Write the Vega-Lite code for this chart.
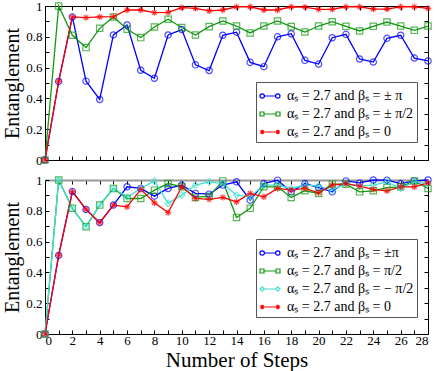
{
"$schema": "https://vega.github.io/schema/vega-lite/v6.json",
"padding": {"left": 2, "top": -1, "right": 6, "bottom": 0},
"spacing": 5,
"config": {"view": {"stroke": "black", "strokeWidth": 1}, "font": "Liberation Serif", "axis": {"grid": false, "domain": false, "tickColor": "black", "tickSize": -4, "tickWidth": 1, "labelFont": "Liberation Serif", "labelFontSize": 13, "labelColor": "black", "titleFont": "Liberation Serif", "titleFontSize": 20, "titleFontWeight": "normal", "titleColor": "black"}},
"datasets": {
"top": [
{"k":"A","x":0,"y":0},{"k":"A","x":1,"y":0.51},{"k":"A","x":2,"y":0.929},{"k":"A","x":3,"y":0.512},{"k":"A","x":4,"y":0.393},{"k":"A","x":5,"y":0.812},{"k":"A","x":6,"y":0.877},{"k":"A","x":7,"y":0.583},{"k":"A","x":8,"y":0.531},{"k":"A","x":9,"y":0.812},{"k":"A","x":10,"y":0.847},{"k":"A","x":11,"y":0.618},{"k":"A","x":12,"y":0.581},{"k":"A","x":13,"y":0.81},{"k":"A","x":14,"y":0.83},{"k":"A","x":15,"y":0.634},{"k":"A","x":16,"y":0.606},{"k":"A","x":17,"y":0.8},{"k":"A","x":18,"y":0.82},{"k":"A","x":19,"y":0.647},{"k":"A","x":20,"y":0.623},{"k":"A","x":21,"y":0.794},{"k":"A","x":22,"y":0.816},{"k":"A","x":23,"y":0.656},{"k":"A","x":24,"y":0.636},{"k":"A","x":25,"y":0.79},{"k":"A","x":26,"y":0.81},{"k":"A","x":27,"y":0.662},{"k":"A","x":28,"y":0.643},
{"k":"B","x":0,"y":0},{"k":"B","x":1,"y":1.0},{"k":"B","x":2,"y":0.81},{"k":"B","x":3,"y":0.73},{"k":"B","x":4,"y":0.855},{"k":"B","x":5,"y":0.929},{"k":"B","x":6,"y":0.849},{"k":"B","x":7,"y":0.795},{"k":"B","x":8,"y":0.864},{"k":"B","x":9,"y":0.914},{"k":"B","x":10,"y":0.86},{"k":"B","x":11,"y":0.812},{"k":"B","x":12,"y":0.866},{"k":"B","x":13,"y":0.903},{"k":"B","x":14,"y":0.87},{"k":"B","x":15,"y":0.825},{"k":"B","x":16,"y":0.87},{"k":"B","x":17,"y":0.903},{"k":"B","x":18,"y":0.866},{"k":"B","x":19,"y":0.831},{"k":"B","x":20,"y":0.87},{"k":"B","x":21,"y":0.898},{"k":"B","x":22,"y":0.868},{"k":"B","x":23,"y":0.838},{"k":"B","x":24,"y":0.868},{"k":"B","x":25,"y":0.896},{"k":"B","x":26,"y":0.87},{"k":"B","x":27,"y":0.842},{"k":"B","x":28,"y":0.87},
{"k":"D","x":0,"y":0},{"k":"D","x":1,"y":0.51},{"k":"D","x":2,"y":0.929},{"k":"D","x":3,"y":0.925},{"k":"D","x":4,"y":0.929},{"k":"D","x":5,"y":0.931},{"k":"D","x":6,"y":0.974},{"k":"D","x":7,"y":0.974},{"k":"D","x":8,"y":0.957},{"k":"D","x":9,"y":0.959},{"k":"D","x":10,"y":0.989},{"k":"D","x":11,"y":0.985},{"k":"D","x":12,"y":0.968},{"k":"D","x":13,"y":0.974},{"k":"D","x":14,"y":0.995},{"k":"D","x":15,"y":0.995},{"k":"D","x":16,"y":0.974},{"k":"D","x":17,"y":0.974},{"k":"D","x":18,"y":0.995},{"k":"D","x":19,"y":0.993},{"k":"D","x":20,"y":0.978},{"k":"D","x":21,"y":0.978},{"k":"D","x":22,"y":0.995},{"k":"D","x":23,"y":0.995},{"k":"D","x":24,"y":0.98},{"k":"D","x":25,"y":0.98},{"k":"D","x":26,"y":0.995},{"k":"D","x":27,"y":0.995},{"k":"D","x":28,"y":0.985}
],
"bottom": [
{"k":"A","x":0,"y":0},{"k":"A","x":1,"y":0.51},{"k":"A","x":2,"y":0.925},{"k":"A","x":3,"y":0.809},{"k":"A","x":4,"y":0.723},{"k":"A","x":5,"y":0.837},{"k":"A","x":6,"y":0.956},{"k":"A","x":7,"y":0.945},{"k":"A","x":8,"y":0.895},{"k":"A","x":9,"y":0.945},{"k":"A","x":10,"y":0.967},{"k":"A","x":11,"y":0.913},{"k":"A","x":12,"y":0.908},{"k":"A","x":13,"y":0.967},{"k":"A","x":14,"y":0.988},{"k":"A","x":15,"y":0.869},{"k":"A","x":16,"y":0.977},{"k":"A","x":17,"y":0.999},{"k":"A","x":18,"y":0.923},{"k":"A","x":19,"y":0.977},{"k":"A","x":20,"y":0.951},{"k":"A","x":21,"y":0.923},{"k":"A","x":22,"y":0.994},{"k":"A","x":23,"y":0.981},{"k":"A","x":24,"y":1.0},{"k":"A","x":25,"y":0.999},{"k":"A","x":26,"y":0.977},{"k":"A","x":27,"y":0.994},{"k":"A","x":28,"y":1.0},
{"k":"B","x":0,"y":0},{"k":"B","x":1,"y":1.0},{"k":"B","x":2,"y":0.816},{"k":"B","x":3,"y":0.697},{"k":"B","x":4,"y":0.837},{"k":"B","x":5,"y":0.945},{"k":"B","x":6,"y":0.88},{"k":"B","x":7,"y":0.88},{"k":"B","x":8,"y":0.934},{"k":"B","x":9,"y":0.977},{"k":"B","x":10,"y":0.956},{"k":"B","x":11,"y":0.887},{"k":"B","x":12,"y":0.895},{"k":"B","x":13,"y":0.994},{"k":"B","x":14,"y":0.757},{"k":"B","x":15,"y":0.816},{"k":"B","x":16,"y":0.956},{"k":"B","x":17,"y":0.956},{"k":"B","x":18,"y":0.887},{"k":"B","x":19,"y":0.93},{"k":"B","x":20,"y":0.913},{"k":"B","x":21,"y":0.973},{"k":"B","x":22,"y":0.973},{"k":"B","x":23,"y":0.923},{"k":"B","x":24,"y":0.93},{"k":"B","x":25,"y":0.951},{"k":"B","x":26,"y":0.956},{"k":"B","x":27,"y":0.994},{"k":"B","x":28,"y":0.945},
{"k":"C","x":0,"y":0},{"k":"C","x":1,"y":1.0},{"k":"C","x":2,"y":0.816},{"k":"C","x":3,"y":0.697},{"k":"C","x":4,"y":0.837},{"k":"C","x":5,"y":0.945},{"k":"C","x":6,"y":0.89},{"k":"C","x":7,"y":0.945},{"k":"C","x":8,"y":0.994},{"k":"C","x":9,"y":0.848},{"k":"C","x":10,"y":0.902},{"k":"C","x":11,"y":0.967},{"k":"C","x":12,"y":0.988},{"k":"C","x":13,"y":0.977},{"k":"C","x":14,"y":0.902},{"k":"C","x":15,"y":0.891},{"k":"C","x":16,"y":0.967},{"k":"C","x":17,"y":0.967},{"k":"C","x":18,"y":0.945},{"k":"C","x":19,"y":0.967},{"k":"C","x":20,"y":0.96},{"k":"C","x":21,"y":0.934},{"k":"C","x":22,"y":0.977},{"k":"C","x":23,"y":0.96},{"k":"C","x":24,"y":0.967},{"k":"C","x":25,"y":0.988},{"k":"C","x":26,"y":0.945},{"k":"C","x":27,"y":0.988},{"k":"C","x":28,"y":0.977},
{"k":"D","x":0,"y":0},{"k":"D","x":1,"y":0.51},{"k":"D","x":2,"y":0.925},{"k":"D","x":3,"y":0.809},{"k":"D","x":4,"y":0.723},{"k":"D","x":5,"y":0.837},{"k":"D","x":6,"y":0.826},{"k":"D","x":7,"y":0.939},{"k":"D","x":8,"y":0.852},{"k":"D","x":9,"y":0.788},{"k":"D","x":10,"y":0.956},{"k":"D","x":11,"y":0.88},{"k":"D","x":12,"y":0.874},{"k":"D","x":13,"y":0.887},{"k":"D","x":14,"y":0.858},{"k":"D","x":15,"y":0.913},{"k":"D","x":16,"y":0.891},{"k":"D","x":17,"y":0.945},{"k":"D","x":18,"y":0.934},{"k":"D","x":19,"y":0.945},{"k":"D","x":20,"y":0.917},{"k":"D","x":21,"y":0.967},{"k":"D","x":22,"y":0.977},{"k":"D","x":23,"y":0.96},{"k":"D","x":24,"y":0.939},{"k":"D","x":25,"y":0.93},{"k":"D","x":26,"y":0.956},{"k":"D","x":27,"y":0.956},{"k":"D","x":28,"y":0.981}
]
},
"vconcat": [
{
"width": 383, "height": 154,
"data": {"name": "top"},
"layer": [
{"mark": {"type": "line", "strokeWidth": 1.3},
 "encoding": {
  "x": {"field": "x", "type": "quantitative", "scale": {"domain": [0, 28], "nice": false}, "axis": {"orient": "bottom", "values": [0,1,2,3,4,5,6,7,8,9,10,11,12,13,14,15,16,17,18,19,20,21,22,23,24,25,26,27,28], "labels": false, "title": null}},
  "y": {"field": "y", "type": "quantitative", "scale": {"domain": [0, 1], "nice": false}, "axis": {"orient": "left", "values": [0,0.1,0.2,0.3,0.4,0.5,0.6,0.7,0.8,0.9,1], "labelExpr": "round(datum.value*10)%2==0 ? format(datum.value,'~g') : ''", "labelPadding": 7, "title": "Entanglement", "titlePadding": 3}},
  "color": {"field": "k", "type": "nominal", "scale": {"domain": ["A","B","D"], "range": ["#0000ff","#119911","#ff0000"]}, "legend": null}
 }},
{"mark": {"type": "point", "filled": false, "size": 40, "strokeWidth": 1.2},
 "encoding": {
  "x": {"field": "x", "type": "quantitative", "axis": null},
  "y": {"field": "y", "type": "quantitative", "axis": null},
  "color": {"field": "k", "type": "nominal", "scale": {"domain": ["A","B","D"], "range": ["#0000ff","#119911","#ff0000"]}, "legend": null},
  "shape": {"field": "k", "type": "nominal", "scale": {"domain": ["A","B","D"], "range": ["circle","square","M-1,0L1,0M0,-1L0,1M-0.7,-0.7L0.7,0.7M-0.7,0.7L0.7,-0.7"]}, "legend": null}
 }},
{"mark": {"type": "point", "filled": false, "opacity": 0, "strokeWidth": 1.2},
 "encoding": {
  "x": {"field": "x", "type": "quantitative", "axis": {"orient": "top", "values": [0,1,2,3,4,5,6,7,8,9,10,11,12,13,14,15,16,17,18,19,20,21,22,23,24,25,26,27,28], "labels": false, "title": null}},
  "y": {"field": "y", "type": "quantitative", "axis": {"orient": "right", "values": [0,0.1,0.2,0.3,0.4,0.5,0.6,0.7,0.8,0.9,1], "labels": false, "title": null}},
  "color": {"field": "k", "type": "nominal", "scale": {"domain": ["A","B","D"], "range": ["#0000ff","#119911","#ff0000"]},
   "legend": {"title": null, "orient": "none", "legendX": 211, "legendY": 76, "labelExpr": "datum.value=='A' ? 'αₛ = 2.7 and βₛ = ± π' : datum.value=='B' ? 'αₛ = 2.7 and βₛ = ± π/2' : 'αₛ = 2.7 and βₛ = 0'", "symbolSize": 400, "symbolStrokeWidth": 1.2, "symbolOpacity": 1, "labelFont": "Liberation Serif", "labelFontSize": 14, "labelColor": "black", "fillColor": "white", "strokeColor": "#555555", "padding": 3, "rowPadding": -1, "labelOffset": 6}},
  "shape": {"field": "k", "type": "nominal", "scale": {"domain": ["A","B","D"], "range": [
    "M-0.56,0L0.56,0M-0.56,0A0.22,0.22,0,1,1,-1,0A0.22,0.22,0,1,1,-0.56,0ZM1,0A0.22,0.22,0,1,1,0.56,0A0.22,0.22,0,1,1,1,0Z",
    "M-0.56,0L0.56,0M-1,-0.2L-0.6,-0.2L-0.6,0.2L-1,0.2ZM0.6,-0.2L1,-0.2L1,0.2L0.6,0.2Z",
    "M-0.78,0L0.78,0M-1,0L-0.56,0M-0.78,-0.22L-0.78,0.22M-0.94,-0.16L-0.62,0.16M-0.94,0.16L-0.62,-0.16M0.56,0L1,0M0.78,-0.22L0.78,0.22M0.62,-0.16L0.94,0.16M0.62,0.16L0.94,-0.16"]},
   "legend": {"title": null, "orient": "none", "legendX": 211, "legendY": 76, "labelExpr": "datum.value=='A' ? 'αₛ = 2.7 and βₛ = ± π' : datum.value=='B' ? 'αₛ = 2.7 and βₛ = ± π/2' : 'αₛ = 2.7 and βₛ = 0'", "symbolSize": 400, "symbolStrokeWidth": 1.2, "symbolOpacity": 1, "labelFont": "Liberation Serif", "labelFontSize": 14, "labelColor": "black", "fillColor": "white", "strokeColor": "#555555", "padding": 3, "rowPadding": -1, "labelOffset": 6}}
 }}
],
"resolve": {"scale": {"color": "independent", "shape": "independent"}, "axis": {"x": "independent", "y": "independent"}}
},
{
"width": 383, "height": 154,
"data": {"name": "bottom"},
"layer": [
{"mark": {"type": "line", "strokeWidth": 1.3},
 "encoding": {
  "x": {"field": "x", "type": "quantitative", "scale": {"domain": [0, 28], "nice": false}, "axis": {"orient": "bottom", "values": [0,1,2,3,4,5,6,7,8,9,10,11,12,13,14,15,16,17,18,19,20,21,22,23,24,25,26,27,28], "labelExpr": "datum.value%2==0 ? datum.label : ''", "labelPadding": 4, "title": "Number of Steps", "titleFontSize": 21, "titlePadding": 2}},
  "y": {"field": "y", "type": "quantitative", "scale": {"domain": [0, 1], "nice": false}, "axis": {"orient": "left", "values": [0,0.1,0.2,0.3,0.4,0.5,0.6,0.7,0.8,0.9,1], "labelExpr": "round(datum.value*10)%2==0 ? format(datum.value,'~g') : ''", "labelPadding": 7, "title": "Entanglement", "titlePadding": 3}},
  "color": {"field": "k", "type": "nominal", "scale": {"domain": ["A","B","C","D"], "range": ["#0000ff","#119911","#40e0d0","#ff0000"]}, "legend": null}
 }},
{"mark": {"type": "point", "filled": false, "size": 40, "strokeWidth": 1.2},
 "encoding": {
  "x": {"field": "x", "type": "quantitative", "axis": null},
  "y": {"field": "y", "type": "quantitative", "axis": null},
  "color": {"field": "k", "type": "nominal", "scale": {"domain": ["A","B","C","D"], "range": ["#0000ff","#119911","#40e0d0","#ff0000"]}, "legend": null},
  "shape": {"field": "k", "type": "nominal", "scale": {"domain": ["A","B","C","D"], "range": ["circle","square","diamond","M-1,0L1,0M0,-1L0,1M-0.7,-0.7L0.7,0.7M-0.7,0.7L0.7,-0.7"]}, "legend": null}
 }},
{"mark": {"type": "point", "filled": false, "opacity": 0, "strokeWidth": 1.2},
 "encoding": {
  "x": {"field": "x", "type": "quantitative", "axis": {"orient": "top", "values": [0,1,2,3,4,5,6,7,8,9,10,11,12,13,14,15,16,17,18,19,20,21,22,23,24,25,26,27,28], "labels": false, "title": null, "domain": true, "domainColor": "#999999", "domainWidth": 2}},
  "y": {"field": "y", "type": "quantitative", "axis": {"orient": "right", "values": [0,0.1,0.2,0.3,0.4,0.5,0.6,0.7,0.8,0.9,1], "labels": false, "title": null}},
  "color": {"field": "k", "type": "nominal", "scale": {"domain": ["A","B","C","D"], "range": ["#0000ff","#119911","#40e0d0","#ff0000"]},
   "legend": {"title": null, "orient": "none", "legendX": 211, "legendY": 59, "labelExpr": "datum.value=='A' ? 'αₛ = 2.7 and βₛ = ±π' : datum.value=='B' ? 'αₛ = 2.7 and βₛ = π/2' : datum.value=='C' ? 'αₛ = 2.7 and βₛ = − π/2' : 'αₛ = 2.7 and βₛ = 0'", "symbolSize": 400, "symbolStrokeWidth": 1.2, "symbolOpacity": 1, "labelFont": "Liberation Serif", "labelFontSize": 14, "labelColor": "black", "fillColor": "white", "strokeColor": "#555555", "padding": 3, "rowPadding": -1, "labelOffset": 6}},
  "shape": {"field": "k", "type": "nominal", "scale": {"domain": ["A","B","C","D"], "range": [
    "M-0.56,0L0.56,0M-0.56,0A0.22,0.22,0,1,1,-1,0A0.22,0.22,0,1,1,-0.56,0ZM1,0A0.22,0.22,0,1,1,0.56,0A0.22,0.22,0,1,1,1,0Z",
    "M-0.56,0L0.56,0M-1,-0.2L-0.6,-0.2L-0.6,0.2L-1,0.2ZM0.6,-0.2L1,-0.2L1,0.2L0.6,0.2Z",
    "M-0.56,0L0.56,0M-0.78,-0.22L-0.56,0L-0.78,0.22L-1,0ZM0.78,-0.22L1,0L0.78,0.22L0.56,0Z",
    "M-0.78,0L0.78,0M-1,0L-0.56,0M-0.78,-0.22L-0.78,0.22M-0.94,-0.16L-0.62,0.16M-0.94,0.16L-0.62,-0.16M0.56,0L1,0M0.78,-0.22L0.78,0.22M0.62,-0.16L0.94,0.16M0.62,0.16L0.94,-0.16"]},
   "legend": {"title": null, "orient": "none", "legendX": 211, "legendY": 59, "labelExpr": "datum.value=='A' ? 'αₛ = 2.7 and βₛ = ±π' : datum.value=='B' ? 'αₛ = 2.7 and βₛ = π/2' : datum.value=='C' ? 'αₛ = 2.7 and βₛ = − π/2' : 'αₛ = 2.7 and βₛ = 0'", "symbolSize": 400, "symbolStrokeWidth": 1.2, "symbolOpacity": 1, "labelFont": "Liberation Serif", "labelFontSize": 14, "labelColor": "black", "fillColor": "white", "strokeColor": "#555555", "padding": 3, "rowPadding": -1, "labelOffset": 6}}
 }}
],
"resolve": {"scale": {"color": "independent", "shape": "independent"}, "axis": {"x": "independent", "y": "independent"}}
}
]
}
